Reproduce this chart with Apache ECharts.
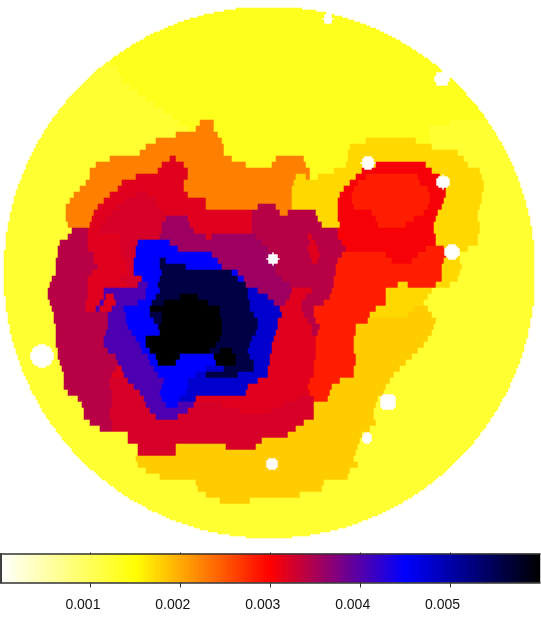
<!DOCTYPE html>
<html>
<head>
<meta charset="utf-8">
<script src="https://cdn.jsdelivr.net/npm/echarts@6/dist/echarts.min.js"></script>
<style>
html, body { margin: 0; padding: 0; background: #fff; }
#main { width: 541px; height: 618px; }
</style>
</head>
<body>
<div id="main"></div>
<script>
// value of each flat region in the map, by letter
var levelCodes = 'abcdefghijklmnop';
var levelValues = [0.0012, 0.00132, 0.00173, 0.0018, 0.00225, 0.00282, 0.00305, 0.00318, 0.00324, 0.00342, 0.00357, 0.00404, 0.0045, 0.00478, 0.0056, 0.006];

// one line per 6 units of height: letter + where that run ends (0-540)
var rowRuns = [
'b540','b540','b540','b540','b540','b540','b540','b540','b540','b540',
'a110 b540',
'a118 b540',
'a120 b540',
'a122 b540',
'a130 b540',
'a138 b540',
'a146 b540',
'a154 b540',
'a163 b540',
'a171 b540',
'a180 b200 e213 b450 a540',
'a188 b195 e214 b430 a540',
'a176 e218 b430 a540',
'a155 e222 b365 c415 b430 a540',
'a145 e223 b350 c432 a540',
'a140 e224 b348 c457 a540',
'a110 e170 h175 e232 b275 e304 b348 c463 a540',
'a95 e162 h184 e245 b272 e306 b345 c375 g425 c468 a540',
'a90 e157 h187 e309 b333 c362 g432 c480 a540',
'a89 e135 h187 e295 c305 e309 b318 c356 g365 f417 g440 c482 a540',
'a85 e122 h184 e293 c350 g358 f420 g443 c483 a540',
'a80 e118 h183 e292 c344 g353 f428 g445 c483 a540',
'a73 e110 h135 i148 h188 e292 c340 g352 f430 g445 c482 a540',
'a69 e103 h125 i155 h205 e292 c338 g352 f429 g443 c481 a540',
'a66 e98 h118 i158 h205 e258 j275 e292 c337 g353 f427 g441 c479 a540',
'a65 e94 h112 i163 h252 j279 e287 j315 c337 g372 f423 g438 c477 a540',
'a66 e92 h106 i165 k187 h252 j317 c337 g375 f414 g435 c478 a540',
'a68 e90 h102 i162 k190 h252 j322 c340 g378 f405 g434 c480 a540',
'a72 j88 h100 i162 k193 h252 j337 g433 c480 a540',
'a68 j88 h120 i160 k205 h212 k256 j307 h312 j338 g435 c478 a540',
'a60 j88 h120 i137 m170 k262 j310 h315 j342 g436 c478 a540',
'a57 j88 h120 i135 m178 k268 j308 h318 j345 g426 f443 c468 a540',
'a57 j93 h122 i135 m212 k271 j310 h320 j342 f385 g418 f445 c460 a540',
'a56 j94 h125 i134 m160 o165 m218 k273 j312 h318 j338 f392 g412 f443 c460 a540',
'a55 j97 h125 i133 m160 o185 m221 k275 j335 f442 c462 a540',
'a55 j92 h127 i133 m162 o232 m238 k275 j335 f442 c460 a540',
'a52 j88 h120 i142 m160 o238 m244 k281 j334 f442 c458 a540',
'a49 j88 h125 i138 l147 m158 o245 k290 j333 f398 c407 f435 c450 a540',
'a47 j87 h103 l146 m160 o247 n258 k291 h312 j332 f386 c432 a540',
'a47 j87 h103 l106 h114 l145 m156 o180 p198 o248 n268 k289 h305 j330 f385 c427 a540',
'a49 j85 h100 l103 h115 l138 m152 o163 p207 o249 n273 k285 h302 j323 f385 c424 a540',
'a51 j85 h95 l100 h112 l124 m150 p219 o250 n279 h302 j313 f375 c414 d428 a540',
'a53 j108 l125 m150 o162 p220 o254 n282 h303 j314 f370 c408 d431 a540',
'a54 j107 l125 m153 o161 p221 o257 n278 h308 j316 f368 d435 a540',
'a55 j108 l127 m157 o160 p222 o257 n277 h311 j319 f356 d434 a540',
'a55 j106 l131 m160 p222 o255 n275 h311 j318 f355 d431 a540',
'a55 j104 l135 m145 p220 o252 n273 h316 f354 d427 a540',
'a55 j104 l139 m145 p215 o250 n272 h316 f354 d423 a540',
'a57 j108 l142 m149 p210 o220 p232 o248 n271 h315 f354 d418 a540',
'a58 j116 l147 m155 p180 m213 p236 o250 n270 h316 f355 d412 a540',
'a60 j118 l149 m158 p176 m216 p235 o254 n269 h314 f356 d406 a540',
'a61 j116 h121 l154 m205 n224 o254 n268 h313 f353 d400 a540',
'a63 j112 h124 l158 m195 n205 o238 n268 h313 f353 d394 a540',
'a63 j110 i128 l163 m188 n258 h309 f340 d390 a540',
'a64 j110 i133 l162 m187 n248 h308 f332 d386 a540',
'a68 j111 i139 l160 m185 n245 h310 f329 d383 a540',
'a78 j111 i144 l161 m180 n196 h298 i313 f327 d378 a540',
'a82 j111 i145 l165 m177 l193 i222 h284 i313 d375 a540',
'a83 j110 i150 l187 i240 h272 i313 d374 a540',
'a84 j110 i155 l178 i313 d374 a540',
'a90 j112 i304 d375 a540',
'a100 j112 i296 d369 a540',
'a127 i288 d362 a540',
'a127 i262 d360 a540',
'a138 i176 d225 i255 d357 a540',
'a138 i175 d356 a540',
'a135 d354 a540',
'a137 d358 a540',
'a145 d350 a540',
'a160 d348 a540',
'a195 d323 a540',
'a198 d322 a540',
'a205 d300 a540',
'a220 d250 a540',
'a540','a540','a540','a540','a540','a540'
];

// the sky disc and the masked-out spots (white holes)
var discX = 269.5, discY = 272.5, discR = 265.5;
var holeX = [328, 442, 368, 443, 452, 273, 42, 388, 367, 272];
var holeY = [19, 79, 163, 182, 252, 259, 356, 402, 438, 464];
var holeR = [5, 8, 7, 7, 8, 6, 12, 9, 6, 6];

// colour bar
var rampColors = ['#ffffff', '#ffff00', '#ff0000', '#0000ff', '#000000'];
var barMin = 0, barMax = 0.006;
var barTicks = [0.001, 0.002, 0.003, 0.004, 0.005];

var cell = 2, nCols = 270, nRows = 270, rowRepeat = 3;
var xCats = [], yCats = [], i, j;
for (i = 0; i < nCols; i++) xCats.push(i * cell);
for (j = 0; j < nRows; j++) yCats.push(j * cell);

function masked(px, py) {
    var dx = px - discX, dy = py - discY;
    if (dx * dx + dy * dy > discR * discR) return true;
    for (var h = 0; h < holeX.length; h++) {
        dx = px - holeX[h]; dy = py - holeY[h];
        if (dx * dx + dy * dy <= holeR[h] * holeR[h]) return true;
    }
    return false;
}

var mapData = [];
rowRuns.forEach(function (row, r) {
    var runs = row.split(' '), start = 0;
    runs.forEach(function (run) {
        var value = levelValues[levelCodes.indexOf(run[0])];
        var stop = Math.round(parseInt(run.slice(1), 10) / cell);
        for (var c = start; c < stop; c++) {
            for (var k = 0; k < rowRepeat; k++) {
                var jj = r * rowRepeat + k;
                if (!masked(c * cell + cell / 2, jj * cell + cell / 2)) mapData.push([c, jj, value]);
            }
        }
        start = stop;
    });
});

var barSteps = 180, barCats = [], barData = [];
for (i = 0; i < barSteps; i++) {
    var v = barMin + (barMax - barMin) * (i + 0.5) / barSteps;
    barCats.push(v);
    barData.push([i, 0, v]);
}

var myChart = echarts.init(document.getElementById('main'), null, { renderer: 'canvas' });
var lineStyle = { color: '#333', width: 1.5 };
var option = {
    animation: false,
    backgroundColor: '#fff',
    grid: [
        { left: 0, top: 0, width: 540, height: 540 },
        { left: 0.5, top: 554, width: 539.5, height: 28.5 }
    ],
    xAxis: [
        { type: 'category', gridIndex: 0, data: xCats, show: false },
        { type: 'category', gridIndex: 1, data: barCats, show: false },
        {
            type: 'value', gridIndex: 1, position: 'bottom', min: barMin, max: barMax, z: 5,
            axisLine: { show: true, lineStyle: lineStyle },
            axisTick: { show: true, length: 5, customValues: barTicks, lineStyle: { color: '#333', width: 1 } },
            axisLabel: {
                show: true, customValues: barTicks, margin: 16,
                padding: [0, 15, 0, 0],
                fontFamily: 'Liberation Sans', fontSize: 14, color: '#111',
                formatter: function (val) { return val.toFixed(3); }
            },
            splitLine: { show: false }
        },
        {
            type: 'value', gridIndex: 1, position: 'top', min: barMin, max: barMax, z: 5,
            axisLine: { show: true, lineStyle: lineStyle },
            axisTick: { show: true, length: 1.5, customValues: barTicks, lineStyle: { color: '#333', width: 1 } },
            axisLabel: { show: false },
            splitLine: { show: false }
        }
    ],
    yAxis: [
        { type: 'category', gridIndex: 0, data: yCats, inverse: true, show: false },
        {
            type: 'category', gridIndex: 1, data: ['bar'], position: 'left', z: 5,
            axisLine: { show: true, lineStyle: lineStyle },
            axisTick: { show: false }, axisLabel: { show: false }
        },
        {
            type: 'category', gridIndex: 1, data: ['bar'], position: 'right', z: 5,
            axisLine: { show: true, lineStyle: lineStyle },
            axisTick: { show: false }, axisLabel: { show: false }
        }
    ],
    visualMap: {
        show: false,
        min: barMin,
        max: barMax,
        seriesIndex: [0, 1],
        inRange: { color: rampColors }
    },
    series: [
        {
            type: 'heatmap', xAxisIndex: 0, yAxisIndex: 0, data: mapData,
            silent: true, progressive: 0, emphasis: { disabled: true }
        },
        {
            type: 'heatmap', xAxisIndex: 1, yAxisIndex: 1, data: barData,
            silent: true, progressive: 0, emphasis: { disabled: true }
        }
    ]
};
myChart.setOption(option);
window.onresize = function () {
    myChart.resize();
};
</script>
</body>
</html>
